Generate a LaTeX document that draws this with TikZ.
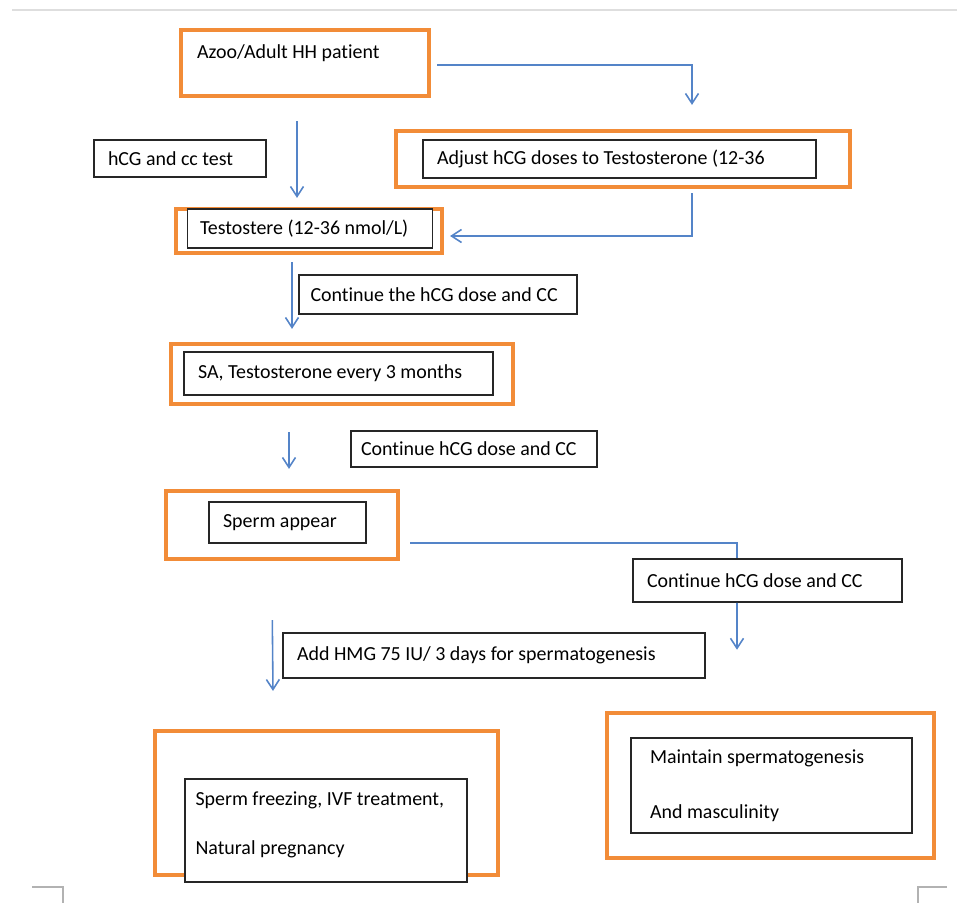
\documentclass[tikz,border=0pt]{standalone}
\usepackage{fontspec}
\setmainfont[Ligatures=NoCommon]{Carlito}
\usetikzlibrary{arrows.meta}
\definecolor{boxorange}{RGB}{242,140,56}
\definecolor{arrowblue}{RGB}{84,132,200}

\begin{document}
\begin{tikzpicture}[x=0.02cm, y=-0.02cm,
		frame/.style={draw=boxorange, line width=2.4pt, inner sep=0},
		textbox/.style={draw=black!85, line width=0.85pt, fill=white, align=flush left,
			inner xsep=0.28cm, inner ysep=0, font=\fontsize{11.35}{13.6}\selectfont},
		link/.style={draw=arrowblue, line width=0.9pt},
		arr/.style={link, -{Straight Barb[length=2mm, width=2.6mm]}}]
	\useasboundingbox (0,0) rectangle (957,903);
	% page edges
	\draw[black!13, line width=1.2pt] (12,10) -- (957,10);
	\draw[black!30, line width=0.8pt] (32,887) -- (63,887) -- (63,903);
	\draw[black!30, line width=0.8pt] (947,887) -- (918,887) -- (918,903);

	% orange frames
	\node[frame, minimum width=4.96cm, minimum height=1.32cm, text width=4.32cm,
		inner xsep=0.32cm, align=flush left, text height=0.3cm, text depth=0.5cm,
		font=\fontsize{11.35}{13.6}\selectfont] (azoo) at (305,63) {Azoo/Adult HH patient};
	\node[frame, minimum width=9.08cm, minimum height=1.12cm] (adjfr) at (623,159) {};
	\node[frame, minimum width=5.32cm, minimum height=0.88cm] (testofr) at (309,231) {};
	\node[frame, minimum width=6.84cm, minimum height=1.20cm] (safr) at (342,374) {};
	\node[frame, minimum width=4.64cm, minimum height=1.36cm] (spermfr) at (282,525) {};
	\node[frame, minimum width=6.86cm, minimum height=2.88cm] (freezefr) at (326.5,803) {};
	\node[frame, minimum width=6.54cm, minimum height=2.90cm] (maintfr) at (770.5,785.5) {};

	% text boxes
	\node[textbox, text width=2.88cm, minimum height=0.74cm] (hcg) at (180,158.5) {hCG and cc test};
	\node[textbox, text width=7.30cm, minimum height=0.76cm] (adjust) at (619.5,159) {Adjust hCG doses to Testosterone (12-36};
	\node[textbox, text width=4.40cm, minimum height=0.78cm, inner xsep=0.25cm] (testo) at (310,228.5) {Testostere (12-36 nmol/L)};
	\node[textbox, text width=5.10cm, minimum height=0.78cm, inner xsep=0.23cm] (contA) at (438,294.5) {Continue the hCG dose and CC};
	\node[textbox, text width=5.62cm, minimum height=0.86cm] (sa) at (338.5,373.5) {SA, Testosterone every 3 months};
	\node[textbox, text width=4.52cm, minimum height=0.72cm, inner xsep=0.2cm] (contB) at (474,449) {Continue hCG dose and CC};
	\node[textbox, text width=2.58cm, minimum height=0.82cm] (sperm) at (287.5,522.5) {Sperm appear};
	\node[textbox, text width=4.82cm, minimum height=0.86cm] (contC) at (767.5,580.5) {Continue hCG dose and CC};
	\node[textbox, text width=7.88cm, minimum height=0.90cm] (hmg) at (494,655.5) {Add HMG 75 IU/ 3 days for spermatogenesis};
	\node[textbox, text width=5.22cm, minimum height=2.06cm, inner xsep=0.21cm, text depth=1.28cm] (freeze) at (326,830.5)
		{Sperm freezing, IVF treatment,\\[0.5cm] Natural pregnancy};
	\node[textbox, text width=4.86cm, minimum height=1.90cm, inner xsep=0.38cm] (maint) at (771.5,785.5)
		{Maintain spermatogenesis\\[0.62cm] And masculinity};

	% connectors
	\draw[arr] ([shift={(-8,23)}]azoo.south) -- ([shift={(-12,-9)}]testofr.north);
	\draw[arr] ([shift={(6,2)}]azoo.east) -| ([shift={(69,-24)}]adjfr.north);
	\draw[arr] ([shift={(69,4)}]adjfr.south) |- ([shift={(6,5)}]testofr.east);
	\draw[arr] ([shift={(-17,7)}]testofr.south) -- ([shift={(-50,-13)}]safr.north);
	\draw[arr] ([shift={(-53,26)}]safr.south) -- ([shift={(7,-20)}]spermfr.north);
	\draw[link] ([shift={(10,18)}]spermfr.east) -| ([xshift=-0.61cm]contC.north);
	\draw[arr] ([xshift=-0.61cm]contC.south) -- ([shift={(-30.5,47)}]contC.south);
	\draw[arr] ([shift={(-10,-35.5)}]hmg.west) -- ([shift={(-53.5,-38)}]freezefr.north);
\end{tikzpicture}
\end{document}
